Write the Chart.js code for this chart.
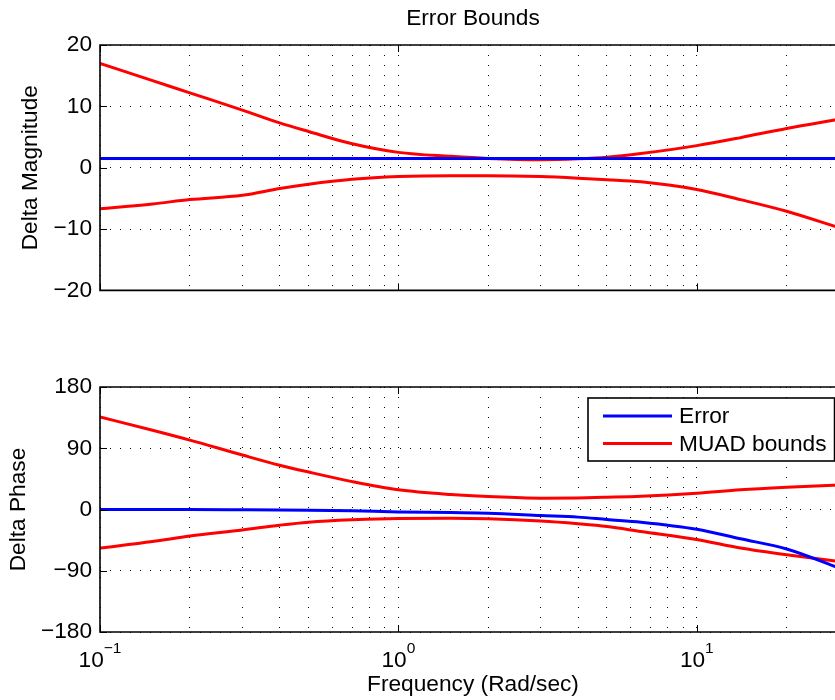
<!DOCTYPE html>
<html>
<head>
<meta charset="utf-8">
<title>Error Bounds</title>
<script src="https://cdn.jsdelivr.net/npm/chart.js@4/dist/chart.umd.min.js"></script>
<style>
  html, body { margin: 0; padding: 0; background: #fff; overflow: hidden; }
  #wrap { position: relative; width: 835px; height: 700px; overflow: hidden; }
  canvas { position: absolute; left: 0; }
  #mag { top: 0; width: 846px; height: 312px; }
  #phase { top: 300px; width: 846px; height: 400px; }
</style>
</head>
<body>
<div id="wrap">
  <canvas id="mag" width="846" height="312"></canvas>
  <canvas id="phase" width="846" height="400"></canvas>
</div>
<script>
// frequency points (rad/sec)
const freq = [0.1, 0.15, 0.2, 0.3, 0.4, 0.5, 0.7, 1, 1.5, 2, 3, 4, 5, 6.5, 10, 14, 20, 30];

// magnitude plot
const magError = [1.5, 1.5, 1.5, 1.5, 1.5, 1.5, 1.5, 1.5, 1.5, 1.5, 1.5, 1.5, 1.5, 1.5, 1.5, 1.5, 1.5, 1.5];
const magUpper = [17.0, 14.2, 12.2, 9.4, 7.3, 5.9, 3.9, 2.5, 1.85, 1.5, 1.3, 1.45, 1.7, 2.3, 3.6, 4.9, 6.4, 7.9];
const magLower = [-6.7, -5.9, -5.2, -4.5, -3.4, -2.7, -1.9, -1.45, -1.3, -1.3, -1.45, -1.7, -1.95, -2.3, -3.55, -5.2, -7.1, -9.8];

// phase plot
const phaseError = [0, 0, 0, -0.3, -0.6, -1, -2, -3.5, -4.5, -5.4, -8.8, -11.2, -14.7, -18.6, -29, -43, -58, -86];
const phaseUpper = [136, 116.5, 102, 80, 65, 55, 41, 29, 22, 19, 16.6, 17, 18, 19.5, 24, 29, 32.7, 36];
const phaseLower = [-56.7, -47, -39, -30, -23, -18.6, -15.1, -13.2, -13, -13.7, -17, -21, -25, -32.3, -44, -56.7, -66.5, -76.5];

// ticks
const magTicks = [-20, -10, 0, 10, 20];
const phaseTicks = [-180, -90, 0, 90, 180];
const xGrid = [0.1, 0.2, 0.3, 0.4, 0.5, 0.6, 0.7, 0.8, 0.9, 1, 2, 3, 4, 5, 6, 7, 8, 9, 10, 20, 30];
const decades = [0.1, 1, 10];
const decadeExp = ['\u22121', '0', '1'];
const legendLabels = ['Error', 'MUAD bounds'];

const X_MIN = 0.1, X_MAX = 31.62;
const FONT = '"Liberation Sans", Arial, Helvetica, sans-serif';
const FS = 22.7;
const BLUE = '#0000ff', RED = '#ff0000';

const pts = ys => freq.map((f, i) => ({x: f, y: ys[i]}));
const minus = v => (v < 0 ? '\u2212' + Math.abs(v) : String(v));

function lineSet(label, ys, color) {
  return {
    label: label,
    data: pts(ys),
    borderColor: color,
    backgroundColor: color,
    borderWidth: 3,
    pointRadius: 0,
    cubicInterpolationMode: 'monotone',
    fill: false
  };
}

// axes box + inner tick marks, matlab style
const axesBox = {
  id: 'axesBox',
  afterDraw(chart) {
    const {ctx, chartArea: a, scales} = chart;
    ctx.save();
    ctx.strokeStyle = '#000';
    ctx.lineWidth = 1;
    ctx.beginPath();
    scales.y.ticks.forEach(t => {
      const y = Math.round(scales.y.getPixelForValue(t.value)) + 0.5;
      ctx.moveTo(a.left, y);
      ctx.lineTo(a.left + 7, y);
    });
    decades.forEach(v => {
      const x = Math.round(scales.x.getPixelForValue(v)) + 0.5;
      ctx.moveTo(x, a.top);
      ctx.lineTo(x, a.top + 7);
      ctx.moveTo(x, a.bottom);
      ctx.lineTo(x, a.bottom - 7);
    });
    ctx.stroke();
    ctx.lineWidth = 1.6;
    ctx.beginPath();
    ctx.moveTo(a.right, a.top);
    ctx.lineTo(a.left, a.top);
    ctx.lineTo(a.left, a.bottom);
    ctx.lineTo(a.right, a.bottom);
    ctx.stroke();
    ctx.restore();
  }
};

// 10^n labels under the phase plot
const decadeLabels = {
  id: 'decadeLabels',
  afterDraw(chart) {
    const {ctx, chartArea: a, scales} = chart;
    ctx.save();
    ctx.fillStyle = '#000';
    ctx.textBaseline = 'alphabetic';
    ctx.textAlign = 'left';
    decades.forEach((v, i) => {
      const x = scales.x.getPixelForValue(v);
      ctx.font = FS + 'px ' + FONT;
      const wb = ctx.measureText('10').width;
      ctx.font = '15.5px ' + FONT;
      const we = ctx.measureText(decadeExp[i]).width;
      const x0 = x - (wb + we) / 2;
      ctx.font = FS + 'px ' + FONT;
      ctx.fillText('10', x0, a.bottom + 35);
      ctx.font = '15.5px ' + FONT;
      ctx.fillText(decadeExp[i], x0 + wb, a.bottom + 21);
    });
    ctx.restore();
  }
};

// legend box inside the top right corner of the phase plot
const insideLegend = {
  id: 'insideLegend',
  afterDraw(chart) {
    const {ctx, chartArea: a} = chart;
    const sets = chart.data.datasets;
    const colors = [sets[0].borderColor, sets[1].borderColor];
    ctx.save();
    ctx.font = FS + 'px ' + FONT;
    const tw = Math.max(...legendLabels.map(t => ctx.measureText(t).width));
    const w = 91 + tw + 8, h = 63;
    const left = 588, top = a.top + 11;
    ctx.fillStyle = '#fff';
    ctx.fillRect(left, top, w, h);
    ctx.strokeStyle = '#000';
    ctx.lineWidth = 1.6;
    ctx.strokeRect(left, top, w, h);
    legendLabels.forEach((t, i) => {
      const y = top + 18 + i * 27.5;
      ctx.strokeStyle = colors[i];
      ctx.lineWidth = 3;
      ctx.beginPath();
      ctx.moveTo(left + 15, y);
      ctx.lineTo(left + 84, y);
      ctx.stroke();
      ctx.fillStyle = '#000';
      ctx.textBaseline = 'middle';
      ctx.fillText(t, left + 91, y + 1);
    });
    ctx.restore();
  }
};

function makeOptions(yMin, yMax, yTicks, yTitle, yTitlePad, xHeight, xTitle) {
  return {
    responsive: false,
    animation: false,
    events: [],
    layout: {padding: 0},
    plugins: {
      legend: {display: false},
      tooltip: {enabled: false},
      title: {display: false}
    },
    scales: {
      x: {
        type: 'logarithmic',
        min: X_MIN,
        max: X_MAX,
        afterBuildTicks: s => { s.ticks = xGrid.map(v => ({value: v})); },
        afterFit: s => { s.height = xHeight; },
        ticks: {display: false},
        grid: {color: '#000', lineWidth: 1, drawTicks: false},
        border: {display: false, dash: [1, 9]},
        title: {
          display: !!xTitle,
          text: xTitle || '',
          color: '#000',
          font: {family: FONT, size: FS},
          padding: {top: 0, bottom: 1.4}
        }
      },
      y: {
        min: yMin,
        max: yMax,
        afterBuildTicks: s => { s.ticks = yTicks.map(v => ({value: v})); },
        afterFit: s => { s.width = 100; },
        ticks: {
          color: '#000',
          font: {family: FONT, size: FS},
          padding: 8,
          callback: v => minus(v)
        },
        grid: {color: '#000', lineWidth: 1, drawTicks: false},
        border: {display: false, dash: [1, 9]},
        title: {
          display: true,
          text: yTitle,
          color: '#000',
          font: {family: FONT, size: FS},
          padding: {top: yTitlePad, bottom: 0}
        }
      }
    }
  };
}

// top plot
const magOptions = makeOptions(-20, 20, magTicks, 'Delta Magnitude', 17.4, 10, null);
magOptions.plugins.title = {
  display: true,
  text: 'Error Bounds',
  fullSize: false,
  color: '#000',
  font: {family: FONT, size: FS, weight: 'normal', lineHeight: 1.2},
  padding: {top: 5.6, bottom: 12.2}
};

new Chart(document.getElementById('mag'), {
  type: 'line',
  data: {
    datasets: [
      lineSet('Error', magError, BLUE),
      lineSet('MUAD bounds', magUpper, RED),
      lineSet('MUAD bounds (lower)', magLower, RED)
    ]
  },
  options: magOptions,
  plugins: [axesBox]
});

// bottom plot
const phaseOptions = makeOptions(-180, 180, phaseTicks, 'Delta Phase', 4.9, 68, 'Frequency (Rad/sec)');
phaseOptions.layout = {padding: {top: 87}};

new Chart(document.getElementById('phase'), {
  type: 'line',
  data: {
    datasets: [
      lineSet('Error', phaseError, BLUE),
      lineSet('MUAD bounds', phaseUpper, RED),
      lineSet('MUAD bounds (lower)', phaseLower, RED)
    ]
  },
  options: phaseOptions,
  plugins: [axesBox, decadeLabels, insideLegend]
});
</script>
</body>
</html>
